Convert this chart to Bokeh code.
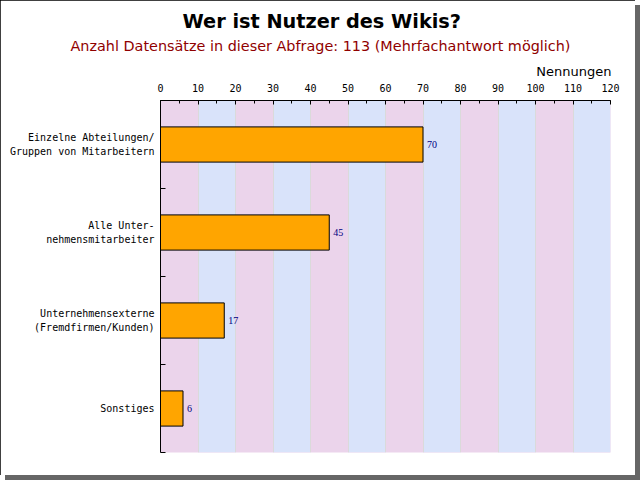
from bokeh.plotting import figure
from bokeh.models import Range1d, FixedTicker, SingleIntervalTicker, Title, LabelSet, ColumnDataSource
from bokeh.embed import file_html
from bokeh.resources import INLINE

# ---- data ----
title = "Wer ist Nutzer des Wikis?"
subtitle = "Anzahl Datensätze in dieser Abfrage: 113 (Mehrfachantwort möglich)"
axis_title = "Nennungen"
categories = [
    "Einzelne Abteilungen/\nGruppen von Mitarbeitern",
    "Alle Unter-\nnehmensmitarbeiter",
    "Unternehmensexterne\n(Fremdfirmen/Kunden)",
    "Sonstiges",
]
values = [70, 45, 17, 6]
x_max = 120
x_step = 10

positions = [i + 0.5 for i in range(len(categories))]
boundaries = list(range(len(categories) + 1))

MONO = "DejaVu Sans Mono"
SANS = "DejaVu Sans"

W, H = 635, 475
FL, FR, FT, FB = 160, 610, 100, 452   # plot frame in pixels

p = figure(
    width=W, height=H,
    x_range=Range1d(0, x_max), y_range=Range1d(len(categories), 0),
    x_axis_location="above",
    output_backend="svg", toolbar_location=None,
    min_border_left=FL, min_border_right=W - FR, min_border_top=FT, min_border_bottom=H - FB,
)
p.background_fill_color = "#ebd4eb"
p.border_fill_color = "white"
p.outline_line_color = None

# alternating vertical bands via the grid
p.xgrid.band_fill_color = "#d9e3fa"
p.xgrid.band_fill_alpha = 1.0
p.xgrid.grid_line_color = "#dadada"
p.ygrid.grid_line_color = None

# top value axis
p.xaxis.ticker = SingleIntervalTicker(interval=x_step, num_minor_ticks=2)
p.xaxis.axis_line_color = "black"
p.xaxis.major_tick_in = 4
p.xaxis.major_tick_out = 0
p.xaxis.minor_tick_in = 3
p.xaxis.minor_tick_out = 0
p.xaxis.major_tick_line_color = "black"
p.xaxis.minor_tick_line_color = "black"
p.xaxis.major_label_text_font = MONO
p.xaxis.major_label_text_font_size = "10px"
p.xaxis.major_label_text_color = "black"
p.xaxis.major_label_standoff = 9

# category axis
p.yaxis.ticker = FixedTicker(ticks=positions, minor_ticks=boundaries)
p.yaxis.major_label_overrides = {pos: cat for pos, cat in zip(positions, categories)}
p.yaxis.major_tick_line_color = None
p.yaxis.major_tick_in = 0
p.yaxis.major_tick_out = 0
p.yaxis.minor_tick_in = 5
p.yaxis.minor_tick_out = 0
p.yaxis.minor_tick_line_color = "black"
p.yaxis.axis_line_color = "black"
p.yaxis.major_label_text_font = MONO
p.yaxis.major_label_text_font_size = "10px"
p.yaxis.major_label_text_color = "black"
p.yaxis.major_label_standoff = 6

src = ColumnDataSource(dict(
    pos=positions, val=values, lab=[str(v) for v in values], cat=categories,
))
p.hbar(y="pos", left=0, right="val", height=0.4, source=src,
       fill_color="#ffa500", line_color="black", line_width=1)

p.add_layout(LabelSet(x="val", y="pos", text="lab", source=src, x_offset=4,
                      text_baseline="middle", text_align="left",
                      text_font=MONO, text_font_size="10px", text_color="#000080"))

# header texts, stacked above the top axis (added from the frame outwards)
p.add_layout(Title(text=axis_title, align="right", offset=-1, standoff=3,
                   text_font=SANS, text_font_size="13px", text_font_style="normal",
                   text_color="black"), "above")
p.add_layout(Title(text=subtitle, align="left", offset=70 - FL, standoff=14,
                   text_font=SANS, text_font_size="14.4px", text_font_style="normal",
                   text_color="#900000"), "above")
p.add_layout(Title(text=title, align="left", offset=182 - FL, standoff=-8,
                   text_font=SANS, text_font_size="19.3px", text_font_style="bold",
                   text_color="black"), "above")

p.styles = {
    "outline": "2px solid black",
    "outline-offset": "-2px",
    "box-shadow": "5px 5px 0 0 #666666",
}

open("out.html", "w").write(file_html(p, INLINE))
